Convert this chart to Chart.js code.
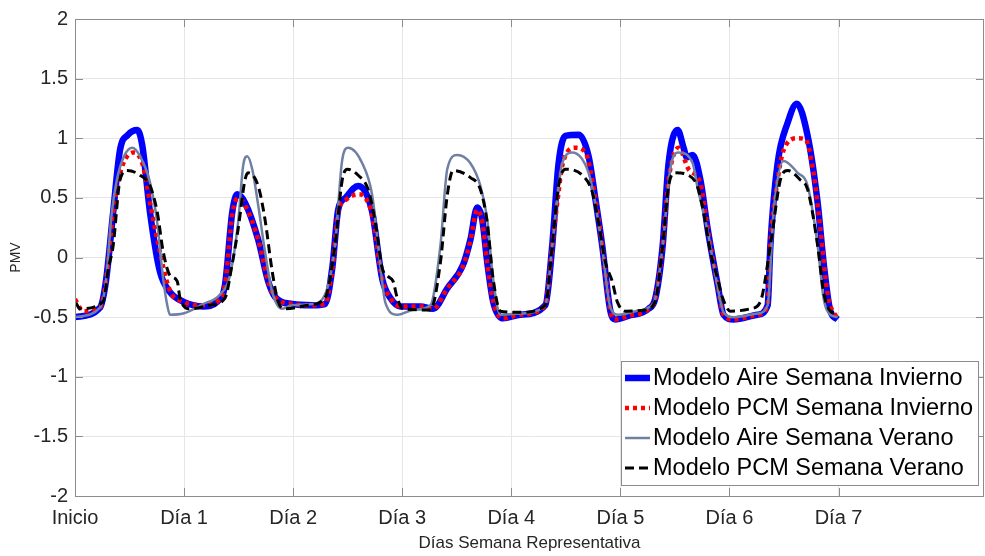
<!DOCTYPE html>
<html>
<head>
<meta charset="utf-8">
<script src="https://cdn.jsdelivr.net/npm/chart.js@4/dist/chart.umd.min.js"></script>
<style>
  html, body { margin: 0; padding: 0; background: #fff; }
  #wrap { width: 985px; height: 556px; position: relative; }
</style>
</head>
<body>
<div id="wrap"><canvas id="pmvChart"></canvas></div>
<script>
// x axis in hours since start of the week
const dayTicks = [0, 24, 48, 72, 96, 120, 144, 168];
const dayLabels = ['Inicio', 'Día 1', 'Día 2', 'Día 3', 'Día 4', 'Día 5', 'Día 6', 'Día 7'];
const yTicks = [-2, -1.5, -1, -0.5, 0, 0.5, 1, 1.5, 2];

const seriesNames = [
    'Modelo Aire Semana Invierno',
    'Modelo PCM Semana Invierno',
    'Modelo Aire Semana Verano',
    'Modelo PCM Semana Verano'
];

// Modelo Aire Semana Invierno
const airInvH = [0, 5.5, 6.8, 8.4, 9.9, 11.7, 13.7, 14.8, 16.5, 18.7, 20.9, 23.8, 28.2, 31.3, 33.0, 34.6, 35.7, 37.4,
    40.3, 42.5, 44.0, 47.8, 52.2, 55.0, 56.6, 57.9, 59.5, 62.3, 63.9, 65.4, 67.6, 69.4, 71.6, 76.0, 78.8, 81.9, 85.4,
    87.0, 88.5, 89.6, 90.7, 92.0, 94.2, 98.0, 103.5, 105.0, 106.4, 107.9, 110.8, 113.0, 114.5, 116.0, 117.8, 118.9,
    121.7, 126.2, 127.7, 129.3, 130.6, 132.6, 133.9, 134.6, 135.9, 137.6, 139.2, 141.4, 142.7, 144.9, 150.2, 152.4,
    153.0, 154.6, 156.8, 158.8, 161.2, 163.4, 164.7, 166.2, 167.8];
const airInvV = [-0.50, -0.42, -0.20, 0.38, 0.90, 1.03, 1.07, 0.94, 0.38, -0.12, -0.29, -0.37, -0.41, -0.37, -0.23, 0.38, 0.53, 0.46,
    0.15, -0.20, -0.33, -0.39, -0.40, -0.39, -0.09, 0.40, 0.50, 0.60, 0.55, 0.38, -0.18, -0.34, -0.41, -0.41, -0.43, -0.26, -0.06,
    0.15, 0.42, 0.32, -0.04, -0.37, -0.51, -0.48, -0.40, 0.10, 0.79, 1.02, 1.03, 0.85, 0.49, 0.10, -0.45, -0.52,
    -0.49, -0.43, -0.34, 0.10, 0.79, 1.07, 0.92, 0.84, 0.86, 0.65, 0.24, -0.23, -0.48, -0.52, -0.48, -0.40,
    0.10, 0.79, 1.13, 1.29, 1.02, 0.46, -0.04, -0.45, -0.52];

// Modelo PCM Semana Invierno
const pcmInvH = [0, 1.8, 5.5, 6.8, 8.4, 9.9, 11.0, 12.8, 14.8, 16.5, 18.1, 20.9, 23.8, 28.2, 31.3, 33.0, 34.6, 35.9, 37.4,
    40.3, 42.5, 44.0, 47.8, 52.2, 55.0, 56.6, 57.9, 59.5, 62.3, 63.9, 65.4, 67.6, 69.4, 71.6, 76.0, 78.8, 81.9, 85.4,
    87.0, 88.5, 89.6, 90.7, 92.0, 94.2, 98.0, 103.5, 105.0, 106.4, 107.2, 110.1, 112.3, 114.5, 116.0, 117.8, 118.9,
    121.7, 126.2, 127.7, 129.3, 130.6, 132.8, 135.0, 137.6, 139.2, 141.4, 142.7, 144.9, 150.2, 152.4, 153.0, 154.6,
    155.9, 159.0, 160.7, 162.5, 164.0, 165.6, 167.8];
const pcmInvV = [-0.35, -0.45, -0.42, -0.20, 0.38, 0.70, 0.82, 0.88, 0.79, 0.46, 0.15, -0.28, -0.37, -0.40, -0.37, -0.23, 0.36, 0.50, 0.44,
    0.15, -0.20, -0.33, -0.39, -0.40, -0.39, -0.10, 0.38, 0.48, 0.53, 0.50, 0.35, -0.18, -0.34, -0.41, -0.41, -0.43, -0.26, -0.07,
    0.14, 0.40, 0.30, -0.05, -0.37, -0.51, -0.48, -0.40, 0.10, 0.55, 0.77, 0.92, 0.88, 0.49, 0.10, -0.45, -0.52,
    -0.49, -0.43, -0.34, 0.10, 0.65, 0.92, 0.74, 0.62, 0.24, -0.23, -0.48, -0.52, -0.48, -0.40, 0.10, 0.65,
    0.90, 1.00, 0.99, 0.71, 0.24, -0.31, -0.52];

// Modelo Aire Semana Verano
const airVerH = [0, 5.5, 6.8, 8.1, 9.2, 10.8, 12.6, 14.3, 16.5, 18.1, 19.4, 20.3, 20.9, 23.8, 28.2, 31.9, 34.1, 35.9, 37.0,
    37.9, 39.0, 40.3, 41.8, 43.4, 45.6, 47.8, 52.2, 55.0, 57.2, 58.8, 60.1, 63.2, 65.4, 66.7, 68.3, 70.9, 74.4, 78.2,
    80.4, 81.9, 84.1, 87.0, 89.2, 90.7, 92.0, 93.6, 98.0, 103.5, 105.0, 107.2, 109.4, 113.0, 114.5, 116.0, 117.8,
    119.6, 123.3, 126.2, 127.7, 129.3, 131.0, 132.8, 135.9, 136.9, 139.2, 141.4, 142.7, 144.9, 150.2, 152.4, 153.7,
    155.9, 159.0, 161.2, 163.4, 164.7, 166.2, 167.8];
const airVerV = [-0.50, -0.42, -0.20, 0.38, 0.65, 0.85, 0.92, 0.85, 0.63, 0.29, -0.18, -0.40, -0.48, -0.47, -0.39, -0.31, -0.15, 0.30, 0.77,
    0.85, 0.74, 0.44, 0.05, -0.29, -0.43, -0.40, -0.39, -0.31, 0.10, 0.82, 0.92, 0.79, 0.52, 0.10, -0.38, -0.48, -0.44, -0.40,
    0.10, 0.74, 0.86, 0.79, 0.60, 0.32, -0.18, -0.48, -0.47, -0.40, 0.10, 0.79, 0.88, 0.71, 0.45, 0.08, -0.42,
    -0.48, -0.45, -0.42, -0.34, 0.10, 0.75, 0.88, 0.79, 0.60, 0.22, -0.25, -0.46, -0.50, -0.47, -0.40, 0.38,
    0.81, 0.71, 0.60, 0.10, -0.34, -0.48, -0.50];

// Modelo PCM Semana Verano
const pcmVerH = [0.2, 1.1, 6.2, 7.3, 8.4, 9.9, 11.5, 14.3, 16.5, 18.1, 19.4, 20.9, 22.5, 23.1, 25.3, 29.7, 33.0, 34.6, 35.9,
    37.4, 38.1, 40.3, 41.8, 43.4, 44.7, 46.2, 51.3, 55.0, 57.2, 58.8, 59.9, 62.3, 64.5, 66.1, 67.6, 68.9, 70.0, 70.9,
    72.2, 78.2, 80.4, 81.9, 83.2, 87.0, 89.2, 90.7, 92.0, 93.6, 98.0, 103.5, 105.0, 106.4, 107.9, 111.6, 113.8, 115.2,
    116.7, 118.2, 119.3, 121.1, 125.5, 127.7, 129.3, 130.6, 132.1, 135.0, 136.9, 138.3, 139.8, 141.4, 142.5, 144.2,
    148.6, 150.8, 153.0, 155.2, 156.8, 159.6, 161.2, 163.4, 164.7, 166.2, 167.8];
const pcmVerV = [-0.38, -0.43, -0.37, -0.10, 0.10, 0.65, 0.73, 0.69, 0.60, 0.38, 0.05, -0.15, -0.20, -0.34, -0.43, -0.40, -0.34, -0.05, 0.24,
    0.65, 0.71, 0.60, 0.32, -0.12, -0.37, -0.43, -0.40, -0.34, 0.10, 0.65, 0.74, 0.69, 0.57, 0.29, -0.09, -0.16, -0.20, -0.34,
    -0.43, -0.44, -0.04, 0.52, 0.73, 0.67, 0.57, 0.29, -0.18, -0.45, -0.46, -0.40, 0.10, 0.60, 0.74, 0.69, 0.55, 0.29,
    -0.04, -0.20, -0.37, -0.45, -0.44, -0.36, 0.10, 0.60, 0.71, 0.69, 0.60, 0.38, 0.05, -0.18, -0.34, -0.45,
    -0.43, -0.37, 0.10, 0.65, 0.73, 0.65, 0.57, 0.10, -0.29, -0.45, -0.47];

function toPoints(hours, values) {
    return hours.map((h, i) => ({ x: h, y: values[i] }));
}

const textColor = '#262626';
const fontName = '"Liberation Sans", Arial, Helvetica, sans-serif';

// dataset styles (also reused by the legend box)
const styles = [
    { color: '#0000ff', width: 6.5, dash: [] },
    { color: '#ff0000', width: 4.5, dash: [4, 4] },
    { color: '#7080a4', width: 2.5, dash: [] },
    { color: '#000000', width: 3, dash: [9, 5] }
];

// frame with inner tick marks, like a boxed axes
const framePlugin = {
    id: 'frame',
    afterDatasetsDraw(chart) {
        const { ctx, chartArea: a, scales } = chart;
        ctx.save();
        ctx.strokeStyle = '#8c8c8c';
        ctx.lineWidth = 1;
        ctx.strokeRect(a.left + 0.5, a.top + 0.5, a.right - a.left - 1, a.bottom - a.top);
        ctx.beginPath();
        dayTicks.forEach(t => {
            const x = Math.round(scales.x.getPixelForValue(t)) + 0.5;
            ctx.moveTo(x, a.bottom); ctx.lineTo(x, a.bottom - 8);
            ctx.moveTo(x, a.top); ctx.lineTo(x, a.top + 8);
        });
        yTicks.forEach(t => {
            const y = Math.round(scales.y.getPixelForValue(t)) + 0.5;
            ctx.moveTo(a.left, y); ctx.lineTo(a.left + 8, y);
            ctx.moveTo(a.right, y); ctx.lineTo(a.right - 8, y);
        });
        ctx.stroke();
        ctx.restore();
    }
};

// legend box in the lower right corner of the plot
const legendBoxPlugin = {
    id: 'legendBox',
    afterDraw(chart) {
        const ctx = chart.ctx;
        const x0 = 621, y0 = 361, w = 357, h = 124;
        ctx.save();
        ctx.fillStyle = '#ffffff';
        ctx.fillRect(x0, y0, w, h);
        ctx.strokeStyle = '#8c8c8c';
        ctx.lineWidth = 1;
        ctx.strokeRect(x0 + 0.5, y0 + 0.5, w, h);
        ctx.font = '23.5px ' + fontName;
        ctx.textBaseline = 'middle';
        seriesNames.forEach((name, i) => {
            const y = y0 + 17 + i * 30;
            const s = styles[i];
            ctx.beginPath();
            ctx.strokeStyle = s.color;
            ctx.lineWidth = s.width;
            ctx.setLineDash(s.dash);
            ctx.moveTo(625, y);
            ctx.lineTo(650, y);
            ctx.stroke();
            ctx.setLineDash([]);
            ctx.fillStyle = '#000000';
            ctx.fillText(name, 653, y + 1);
        });
        ctx.restore();
    }
};

const seriesData = [
    toPoints(airInvH, airInvV),
    toPoints(pcmInvH, pcmInvV),
    toPoints(airVerH, airVerV),
    toPoints(pcmVerH, pcmVerV)
];

const ctx = document.getElementById('pmvChart').getContext('2d');
const pmvChart = new Chart(ctx, {
    type: 'line',
    data: {
        datasets: seriesData.map((pts, i) => ({
            label: seriesNames[i],
            data: pts,
            borderColor: styles[i].color,
            borderWidth: styles[i].width,
            borderDash: styles[i].dash,
            pointRadius: 0,
            fill: false,
            cubicInterpolationMode: 'monotone',
            borderCapStyle: 'butt',
            borderJoinStyle: 'round',
            order: 4 - i
        }))
    },
    options: {
        responsive: true,
        maintainAspectRatio: false,
        animation: false,
        layout: { padding: { top: 15, right: 1, left: 8, bottom: 0 } },
        plugins: {
            legend: { display: false },
            tooltip: { enabled: false }
        },
        scales: {
            x: {
                type: 'linear',
                min: 0,
                max: 200,
                afterBuildTicks: (scale) => { scale.ticks = dayTicks.map(v => ({ value: v })); },
                afterFit: (scale) => { scale.height = 60; },
                grid: { color: '#e6e6e6', drawTicks: false },
                border: { display: false },
                ticks: {
                    color: textColor,
                    font: { family: fontName, size: 20 },
                    padding: 10,
                    maxRotation: 0,
                    autoSkip: false,
                    callback: (v) => dayLabels[dayTicks.indexOf(v)]
                },
                title: {
                    display: true,
                    text: 'Días Semana Representativa',
                    color: textColor,
                    font: { family: fontName, size: 17 },
                    padding: { top: 2, bottom: 2 }
                }
            },
            y: {
                min: -2,
                max: 2,
                afterBuildTicks: (scale) => { scale.ticks = yTicks.map(v => ({ value: v })); },
                afterFit: (scale) => { scale.width = 67; },
                grid: { color: '#e6e6e6', drawTicks: false },
                border: { display: false },
                ticks: {
                    color: textColor,
                    font: { family: fontName, size: 20 },
                    padding: 7,
                    callback: (v) => String(v)
                },
                title: {
                    display: true,
                    text: 'PMV',
                    color: textColor,
                    font: { family: fontName, size: 14 },
                    padding: { top: 0, bottom: 4 }
                }
            }
        }
    },
    plugins: [framePlugin, legendBoxPlugin]
});
</script>
</body>
</html>
